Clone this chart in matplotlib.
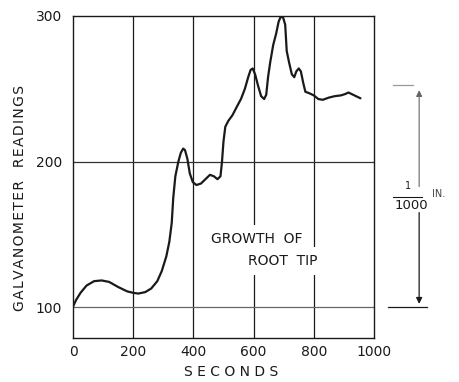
import matplotlib
matplotlib.use("Agg")
import matplotlib.pyplot as plt

# ---- data ----
seconds = [0, 10, 25, 45, 70, 95, 120, 150, 180, 200, 217, 240, 260, 280, 295,
           310, 320, 328, 333, 340, 350, 358, 366, 372, 380, 388, 398, 410, 425,
           440, 455, 468, 480, 490, 495, 500, 506, 516, 530, 545, 558, 571, 582,
           590, 597, 605, 615, 625, 635, 642, 648, 655, 665, 675, 683, 690, 698,
           705, 710, 718, 727, 735, 742, 750, 757, 765, 772, 785, 800, 815, 830,
           850, 870, 890, 905, 915, 925, 940, 955]
readings = [100.5, 105, 110, 115, 118, 118.5, 117.5, 114, 111, 110, 109.5, 110.5,
            113, 118, 125, 135, 145, 158, 175, 190, 200, 206, 209, 208, 202, 192,
            186, 184, 185, 188, 191, 190, 188, 190, 200, 214, 224, 228, 232, 238,
            243, 250, 258, 263, 264, 260, 252, 245, 243, 246, 258, 268, 280, 288,
            296, 299.5, 299, 294, 276, 268, 260, 258, 262, 264, 262, 254, 248, 247,
            245.5, 243, 242.5, 244, 245, 245.5, 246.5, 247.5, 246.5, 245, 243.5]

xticks = [0, 200, 400, 600, 800, 1000]
yticks = [100, 200, 300]
x_grid = [200, 400, 600, 800]
y_grid = [100, 200]

ink = "#1a1a1a"

fig = plt.figure(figsize=(4.59, 3.82), dpi=100)
ax = fig.add_axes([73/459, 44/382, 301/459, 322/382])
ax.set_xlim(0, 1000)
ax.set_ylim(79, 300)

for gx in x_grid:
    ax.axvline(gx, color=ink, lw=0.9, zorder=1)
for gy in y_grid:
    ax.axhline(gy, color="#333333" if gy == 200 else "#666666", lw=0.9, zorder=1)

ax.plot(seconds, readings, color=ink, lw=1.6, solid_capstyle="round",
        solid_joinstyle="round", zorder=3)

for s in ax.spines.values():
    s.set_color(ink)
    s.set_linewidth(1.0)

ax.set_xticks(xticks)
ax.set_yticks(yticks)
ax.set_xticklabels([str(v) for v in xticks])
ax.set_yticklabels([str(v) for v in yticks])
ax.tick_params(length=0, labelsize=10, colors=ink)
ax.tick_params(axis="x", pad=5)
ax.tick_params(axis="y", pad=8)

hs = "\u200a"
ylab = "GALVANOMETER  READINGS"
ylab = hs.join(list(ylab))
fig.text(20/459, 1 - 198/382, ylab, rotation=90, ha="center", va="center",
         fontsize=10, color=ink)
fig.text(231/459, 1 - 372/382, "S E C O N D S", ha="center", va="center",
         fontsize=10, color=ink)

ax.text(612, 147, "GROWTH  OF", ha="center", va="center", fontsize=10,
        color=ink, zorder=4,
        bbox=dict(facecolor="white", edgecolor="none", pad=5))
ax.text(696, 132, "ROOT  TIP", ha="center", va="center", fontsize=10,
        color=ink, zorder=4,
        bbox=dict(facecolor="white", edgecolor="none", pad=5))

# scale annotation to the right of the chart
xa = 1150
ax.plot([1063, 1130], [252.8, 252.8], color="#999999", lw=0.9, clip_on=False)
ax.annotate("", xy=(xa, 251), xytext=(xa, 181),
            arrowprops=dict(arrowstyle="-|>", color="#666666", lw=0.8,
                            mutation_scale=9), annotation_clip=False)
ax.annotate("", xy=(xa, 100.5), xytext=(xa, 167),
            arrowprops=dict(arrowstyle="-|>", color=ink, lw=0.9,
                            mutation_scale=9), annotation_clip=False)
ax.plot([1046, 1176], [100, 100], color=ink, lw=0.9, clip_on=False)
ax.plot([1063, 1160], [175.7, 175.7], color=ink, lw=0.8, clip_on=False)
ax.text(1113, 183, "1", ha="center", va="center", fontsize=7, color=ink,
        clip_on=False)
ax.text(1125, 170, "1000", ha="center", va="center", fontsize=9.5, color=ink,
        clip_on=False)
ax.text(1192, 178, "IN.", ha="left", va="center", fontsize=7, color="#444444",
        clip_on=False)

fig.savefig("out.png", dpi=100, facecolor="white")
